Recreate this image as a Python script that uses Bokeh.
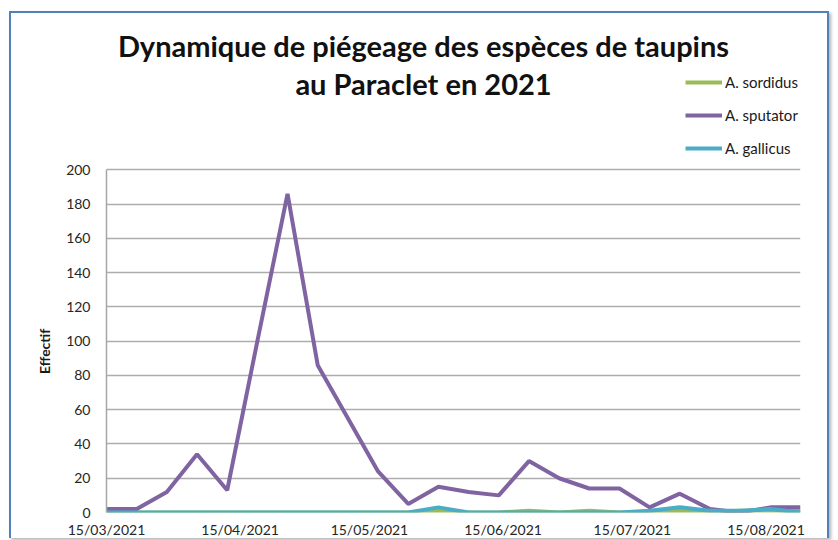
import pandas as pd
from bokeh.plotting import figure
from bokeh.models import (ColumnDataSource, FixedTicker, DatetimeTickFormatter, Label,
                          Legend, LegendItem, Range1d)
from bokeh.embed import file_html
from bokeh.resources import INLINE

# ---- data ----
dates = ["2021-03-15", "2021-03-22", "2021-03-29", "2021-04-05", "2021-04-12", "2021-04-19",
         "2021-04-26", "2021-05-03", "2021-05-10", "2021-05-17", "2021-05-24", "2021-05-31",
         "2021-06-07", "2021-06-14", "2021-06-21", "2021-06-28", "2021-07-05", "2021-07-12",
         "2021-07-19", "2021-07-26", "2021-08-02", "2021-08-09", "2021-08-16", "2021-08-23"]
sordidus = [0, 0, 0, 0, 0, 0, 0, 0, 0, 0, 0, 1, 0, 0, 1, 0, 1, 0, 0, 1, 0, 1, 1, 1]
sputator = [2, 2, 12, 34, 13, 100, 186, 86, 55, 24, 5, 15, 12, 10, 30, 20, 14, 14, 3, 11, 2, 0, 3, 3]
gallicus = [0, 0, 0, 0, 0, 0, 0, 0, 0, 0, 0, 3, 0, 0, 0, 0, 0, 0, 1, 3, 1, 1, 2, 0]
series_names = ["A. sordidus", "A. sputator", "A. gallicus"]
tick_dates = ["2021-03-15", "2021-04-15", "2021-05-15", "2021-06-15", "2021-07-15", "2021-08-15"]
y_ticks = [0, 20, 40, 60, 80, 100, 120, 140, 160, 180, 200]
title_lines = ["Dynamique de piégeage des espèces de taupins", "au Paraclet en 2021"]
y_label = "Effectif"

colors = ["#9BBB59", "#8064A2", "#4BACC6"]
FONT = "Lato"
Y_TOP = 291.3  # headroom above 200 for title and legend, inside the frame

src = ColumnDataSource(dict(x=pd.to_datetime(dates), s=sordidus, p=sputator, g=gallicus))

x0 = pd.Timestamp(dates[0])
x1 = pd.Timestamp(dates[-1])

p = figure(width=820, height=527, x_axis_type="datetime", output_backend="svg",
           toolbar_location=None,
           x_range=Range1d(x0, x1), y_range=Range1d(0, Y_TOP),
           min_border_left=95, min_border_right=31, min_border_top=0, min_border_bottom=26)
p.styles = {"margin": "11px 0 0 9px",
            "border-top": "2px solid #4F81BD",
            "border-left": "2px solid #4F81BD",
            "border-right": "2px solid #4F81BD",
            "box-shadow": "2px 2px 3px rgba(0,0,0,0.3)"}
p.outline_line_color = None
p.background_fill_color = "white"
p.border_fill_color = "white"

r1 = p.line("x", "s", source=src, line_color=colors[0], line_width=4)
r2 = p.line("x", "p", source=src, line_color=colors[1], line_width=4)
r3 = p.line("x", "g", source=src, line_color=colors[2], line_width=4)

# axes
p.xaxis.ticker = FixedTicker(ticks=[pd.Timestamp(d).value / 1e6 for d in tick_dates])
fmt = "%d/%m/%Y"
p.xaxis.formatter = DatetimeTickFormatter(days=fmt, months=fmt, years=fmt, hours=fmt,
                                          minutes=fmt, seconds=fmt, milliseconds=fmt,
                                          microseconds=fmt, minsec=fmt, hourmin=fmt)
p.yaxis.ticker = FixedTicker(ticks=y_ticks)
p.yaxis.bounds = (y_ticks[0], y_ticks[-1])
for ax in (p.xaxis[0], p.yaxis[0]):
    ax.major_tick_line_color = None
    ax.minor_tick_line_color = None
    ax.major_tick_out = 0
    ax.major_tick_in = 0
    ax.minor_tick_out = 0
    ax.major_label_text_font = FONT
    ax.major_label_text_font_size = "14px"
    ax.major_label_text_color = "#262626"
    ax.axis_line_color = "#A6A6A6"
    ax.axis_line_width = 1.5
p.xaxis.axis_line_color = None
p.xaxis.major_label_standoff = 8
p.yaxis.major_label_standoff = 16
# trailing non-breaking spaces shift the centred label down to the 0-200 span
p.yaxis.axis_label = y_label + "\u00a0" * 52
p.yaxis.axis_label_text_font = FONT
p.yaxis.axis_label_text_font_style = "bold"
p.yaxis.axis_label_text_font_size = "14px"
p.yaxis.axis_label_text_color = "#1a1a1a"
p.yaxis.axis_label_standoff = 10

p.xgrid.grid_line_color = None
p.ygrid.grid_line_color = "#ADADAD"
p.ygrid.grid_line_width = 1.5

# title (screen units, relative to frame bottom-left)
p.add_layout(Label(x=317, y=467, x_units="screen", y_units="screen", text=title_lines[0],
                   text_font=FONT, text_font_style="bold", text_font_size="29px",
                   text_align="center", text_baseline="middle", text_color="#111111"))
p.add_layout(Label(x=317, y=429, x_units="screen", y_units="screen", text=title_lines[1],
                   text_font=FONT, text_font_style="bold", text_font_size="29px",
                   text_align="center", text_baseline="middle", text_color="#111111"))

legend = Legend(items=[LegendItem(label=series_names[0], renderers=[r1]),
                       LegendItem(label=series_names[1], renderers=[r2]),
                       LegendItem(label=series_names[2], renderers=[r3])],
                location=(579, 354), orientation="vertical",
                padding=0, margin=0, spacing=13, glyph_width=37, glyph_height=20,
                label_height=20, label_standoff=3,
                label_text_font=FONT, label_text_font_size="15px", label_text_color="#1a1a1a",
                border_line_color=None, background_fill_alpha=0)
p.add_layout(legend, "center")

open("out.html", "w").write(file_html(p, INLINE))
